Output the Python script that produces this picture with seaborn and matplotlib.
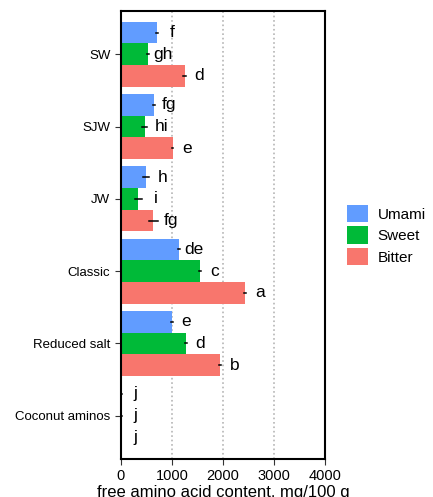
import pandas as pd
import matplotlib.pyplot as plt
import seaborn as sns

samples = ['SW', 'SJW', 'JW', 'Classic', 'Reduced salt', 'Coconut aminos']
tastes = ['Umami', 'Sweet', 'Bitter']
colors = ['#619CFF', '#00BA38', '#F8766D']

umami = [715, 650, 487, 1137, 994, 10]
sweet = [540, 468, 345, 1546, 1267, 10]
bitter = [1247, 1013, 637, 2430, 1936, 5]

umami_sd = [20, 25, 60, 20, 20, 5]
sweet_sd = [20, 50, 70, 20, 20, 5]
bitter_sd = [20, 15, 85, 20, 20, 5]

umami_let = ['f', 'fg', 'h', 'de', 'e', 'j']
sweet_let = ['gh', 'hi', 'i', 'c', 'd', 'j']
bitter_let = ['d', 'e', 'fg', 'a', 'b', 'j']

# long table: two rows per bar (value - sd, value + sd) so the mean is the value
rows = []
for t, vals, sds in [('Umami', umami, umami_sd),
                     ('Sweet', sweet, sweet_sd),
                     ('Bitter', bitter, bitter_sd)]:
    for s, v, e in zip(samples, vals, sds):
        rows.append({'sample': s, 'taste': t, 'value': v - e})
        rows.append({'sample': s, 'taste': t, 'value': v + e})
df = pd.DataFrame(rows)

plt.rcParams['font.family'] = ['Liberation Sans', 'DejaVu Sans']
fig = plt.figure(figsize=(4.33, 4.97), dpi=100)
ax = fig.add_axes([0.279, 0.0765, 0.472, 0.9015])

sns.barplot(data=df, x='value', y='sample', hue='taste', order=samples,
            hue_order=tastes, palette=colors, saturation=1, orient='h', width=0.9,
            errorbar=lambda x: (x.min(), x.max()),
            err_kws={'color': 'black', 'linewidth': 1.1}, ax=ax)

# significance letters
for j, (vals, sds, lets) in enumerate([(umami, umami_sd, umami_let),
                                       (sweet, sweet_sd, sweet_let),
                                       (bitter, bitter_sd, bitter_let)]):
    for i, (v, e, l) in enumerate(zip(vals, sds, lets)):
        ax.text(v + e + 270, i + (j - 1) * 0.3, l, ha='center', va='center',
                fontsize=12.5)

ax.set_xlim(0, 4000)
ax.set_ylim(5.6, -0.6)
ax.set_xticks([0, 1000, 2000, 3000, 4000])
ax.xaxis.grid(True, linestyle=':', color='#b5b5b5', linewidth=1.2)
ax.yaxis.grid(False)
ax.set_axisbelow(True)
for sp in ax.spines.values():
    sp.set_color('black')
    sp.set_linewidth(1.5)
ax.tick_params(axis='x', labelsize=10.5, length=4, color='#333333', labelcolor='black')
ax.tick_params(axis='y', labelsize=9.5, length=4, color='#333333', labelcolor='black')
ax.set_ylabel('')
ax.set_xlabel('free amino acid content, mg/100 g', fontsize=12, labelpad=1)

ax.legend(loc='center left', bbox_to_anchor=(1.04, 0.5), frameon=False,
          fontsize=11, handlelength=1.4, handleheight=1.4, handletextpad=0.6,
          labelspacing=0.25)

plt.savefig('out.png', dpi=100)
